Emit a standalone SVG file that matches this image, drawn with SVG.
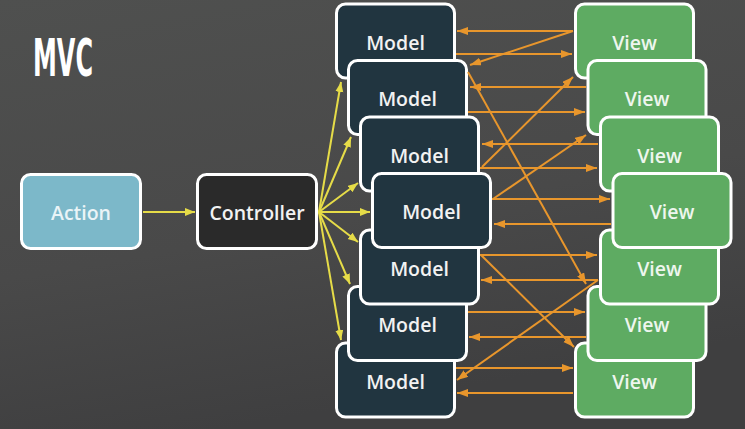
<svg xmlns="http://www.w3.org/2000/svg" width="745" height="429" viewBox="0 0 745 429">
  <defs>
    <linearGradient id="bg" x1="0" y1="0" x2="0.3" y2="1">
      <stop offset="0" stop-color="#4f504f"/>
      <stop offset="0.6" stop-color="#494949"/>
      <stop offset="1" stop-color="#3f3f40"/>
    </linearGradient>
    <marker id="ay" markerUnits="userSpaceOnUse" markerWidth="12" markerHeight="10" refX="10" refY="4" orient="auto">
      <path d="M0,0 L10,4 L0,8 Z" fill="#e6dc48"/>
    </marker>
    <marker id="ao" markerUnits="userSpaceOnUse" markerWidth="13" markerHeight="10" refX="11" refY="4" orient="auto">
      <path d="M0,0 L11,4 L0,8 Z" fill="#e8962c"/>
    </marker>
  </defs>
  <style>
    .box { stroke: #ffffff; stroke-width: 3; }
    .model { fill: #213540; }
    .view { fill: #5eab62; }
    .action { fill: #7cb8c9; }
    .ctrl { fill: #2a2a2a; }
    .lbl { font-family: "Open Sans", "Noto Sans", "Liberation Sans", sans-serif; font-weight: 600; font-size: 19.5px; text-anchor: middle; dominant-baseline: central; }
    .lm { fill: #f2f2f2; }
    .lv { fill: #eef6ee; }
    .la { fill: #eaf4f7; }
    .yl { stroke: #e6dc48; stroke-width: 2; fill: none; marker-end: url(#ay); }
    .ol { stroke: #e8962c; stroke-width: 2; fill: none; marker-end: url(#ao); }
  </style>
  <rect x="0" y="0" width="745" height="429" fill="url(#bg)"/>

  <text x="33" y="76" font-family="'DejaVu Sans Condensed', 'Liberation Sans Narrow', 'Liberation Sans', sans-serif" font-weight="bold" font-size="51" fill="#ffffff" textLength="60" lengthAdjust="spacingAndGlyphs">MVC</text>

  <g id="action">
    <rect class="box action" x="21.5" y="174.5" width="119" height="74" rx="9"/>
    <text class="lbl la" x="81" y="212">Action</text>
  </g>
  <g id="controller">
    <rect class="box ctrl" x="197.5" y="174.5" width="119" height="74" rx="9"/>
    <text class="lbl lm" x="257" y="212">Controller</text>
  </g>

  <g id="model1"><rect class="box model" x="336.5" y="4" width="118" height="74" rx="9"/><text class="lbl lm" x="395.5" y="42">Model</text></g>
  <g id="model2"><rect class="box model" x="348.5" y="60.5" width="118" height="74" rx="9"/><text class="lbl lm" x="407.5" y="98.5">Model</text></g>
  <g id="model3"><rect class="box model" x="360.5" y="117" width="118" height="74" rx="9"/><text class="lbl lm" x="419.5" y="155">Model</text></g>
  <g id="model7"><rect class="box model" x="336.5" y="343" width="118" height="74" rx="9"/><text class="lbl lm" x="395.5" y="381">Model</text></g>
  <g id="model6"><rect class="box model" x="348.5" y="286.5" width="118" height="74" rx="9"/><text class="lbl lm" x="407.5" y="324.5">Model</text></g>
  <g id="model5"><rect class="box model" x="360.5" y="230" width="118" height="74" rx="9"/><text class="lbl lm" x="419.5" y="268">Model</text></g>
  <g id="model4"><rect class="box model" x="372.5" y="173.5" width="118" height="74" rx="9"/><text class="lbl lm" x="431.5" y="211.5">Model</text></g>

  <g id="view1"><rect class="box view" x="575.5" y="4" width="118" height="74" rx="9"/><text class="lbl lv" x="634.5" y="42">View</text></g>
  <g id="view2"><rect class="box view" x="588" y="60.5" width="118" height="74" rx="9"/><text class="lbl lv" x="647" y="98.5">View</text></g>
  <g id="view3"><rect class="box view" x="600.5" y="117" width="118" height="74" rx="9"/><text class="lbl lv" x="659.5" y="155">View</text></g>
  <g id="view7"><rect class="box view" x="575.5" y="343" width="118" height="74" rx="9"/><text class="lbl lv" x="634.5" y="381">View</text></g>
  <g id="view6"><rect class="box view" x="588" y="286.5" width="118" height="74" rx="9"/><text class="lbl lv" x="647" y="324.5">View</text></g>
  <g id="view5"><rect class="box view" x="600.5" y="230" width="118" height="74" rx="9"/><text class="lbl lv" x="659.5" y="268">View</text></g>
  <g id="view4"><rect class="box view" x="613" y="173.5" width="118" height="74" rx="9"/><text class="lbl lv" x="672" y="211.5">View</text></g>

  <g id="connectors">
    <line class="yl" x1="143" y1="212" x2="195" y2="212"/>
    <line class="yl" x1="319" y1="212" x2="341" y2="82"/>
    <line class="yl" x1="319" y1="212" x2="351" y2="137"/>
    <line class="yl" x1="319" y1="212" x2="358" y2="183"/>
    <line class="yl" x1="319" y1="212" x2="370" y2="212"/>
    <line class="yl" x1="319" y1="212" x2="358" y2="242"/>
    <line class="yl" x1="319" y1="212" x2="350" y2="284"/>
    <line class="yl" x1="319" y1="212" x2="341" y2="340"/>

    <line class="ol" x1="573" y1="31" x2="457" y2="31"/>
    <line class="ol" x1="573" y1="31" x2="470" y2="65"/>
    <line class="ol" x1="456" y1="54" x2="572" y2="54"/>
    <line class="ol" x1="586" y1="87" x2="470" y2="87"/>
    <line class="ol" x1="482" y1="167" x2="573" y2="77"/>
    <line class="ol" x1="468" y1="112" x2="585" y2="112"/>
    <line class="ol" x1="468" y1="72" x2="586" y2="284"/>
    <line class="ol" x1="598" y1="144" x2="482" y2="144"/>
    <line class="ol" x1="480" y1="168" x2="597" y2="168"/>
    <line class="ol" x1="493" y1="199" x2="586" y2="135"/>
    <line class="ol" x1="492" y1="199" x2="610" y2="199"/>
    <line class="ol" x1="611" y1="224" x2="494" y2="224"/>
    <line class="ol" x1="480" y1="255" x2="597" y2="255"/>
    <line class="ol" x1="481" y1="255" x2="574" y2="347"/>
    <line class="ol" x1="598" y1="280" x2="481" y2="280"/>
    <line class="ol" x1="598" y1="280" x2="457" y2="380"/>
    <line class="ol" x1="468" y1="312" x2="585" y2="312"/>
    <line class="ol" x1="586" y1="337" x2="469" y2="337"/>
    <line class="ol" x1="456" y1="368" x2="573" y2="368"/>
    <line class="ol" x1="573" y1="393" x2="457" y2="393"/>
  </g>
</svg>
